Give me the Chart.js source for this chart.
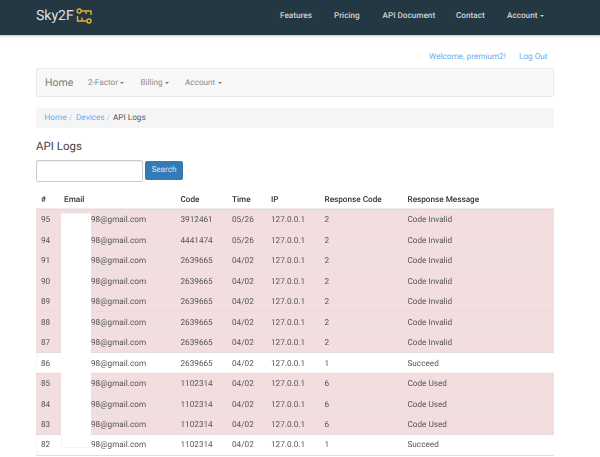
<!DOCTYPE html>
<html>
<head>
<meta charset="utf-8">
<title>API Logs</title>
<script src="https://cdn.jsdelivr.net/npm/chart.js@4/dist/chart.umd.min.js"></script>
<style>
  html, body { margin: 0; padding: 0; background: #fff; }
  body { width: 600px; height: 457px; overflow: hidden; position: relative; font-family: Roboto, sans-serif; font-size: 8.2px; text-rendering: geometricPrecision; }
  .abs { position: absolute; white-space: nowrap; line-height: 12px; }
  .topbar { position: absolute; left: 0; top: 0; width: 600px; height: 35px; background: #243844; box-shadow: 0 1px 2px rgba(0,0,0,.25); }
  .top-link { color: #cfd3d6; font-weight: 500; top: 10px; font-size: 8.2px; }
  .link { color: #5fadf0; }
  .caret { position: absolute; width: 0; height: 0; border-left: 2.2px solid transparent; border-right: 2.2px solid transparent; border-top: 2.2px solid #777; }
  .box { position: absolute; left: 36px; width: 518px; box-sizing: border-box; border-radius: 2px; }
  .subnav { color: #8a8a8a; top: 77px; }
  #tableWrap { position: absolute; left: 36px; top: 190px; width: 518px; height: 267px; }
</style>
</head>
<body>
<div class="topbar"></div>
<div class="abs" style="left:36px;top:8px;font-size:14px;line-height:17px;color:#dfe3e5">Sky2F</div>
<svg class="abs" style="left:75px;top:7px" width="19" height="18" viewBox="0 0 19 18" fill="none" stroke="#e5b12f" stroke-width="1.4">
  <circle cx="4.2" cy="4" r="2"/><path d="M6.5 4H16V8M11 4V7"/>
  <circle cx="14" cy="14" r="2"/><path d="M2.5 9V14H11.7M7 14V10.5"/>
</svg>
<div class="abs top-link" style="left:280px">Features</div>
<div class="abs top-link" style="left:334px">Pricing</div>
<div class="abs top-link" style="left:382.5px">API Document</div>
<div class="abs top-link" style="left:456px">Contact</div>
<div class="abs top-link" style="left:507px">Account</div>
<div class="caret" style="left:539.5px;top:15px;border-top-color:#cfd3d6"></div>

<div class="abs link" style="left:429px;top:51px">Welcome, premium2!</div>
<div class="abs link" style="left:519px;top:51px">Log Out</div>

<div class="box" style="top:68px;height:29px;background:#f8f8f8;border:1px solid #e9e9e9"></div>
<div class="abs" style="left:45px;top:76px;font-size:10.5px;line-height:14px;color:#777">Home</div>
<div class="abs subnav" style="left:88px">2-Factor</div>
<div class="caret" style="left:120px;top:82px"></div>
<div class="abs subnav" style="left:140.5px">Billing</div>
<div class="caret" style="left:165px;top:82px"></div>
<div class="abs subnav" style="left:185px">Account</div>
<div class="caret" style="left:217.5px;top:82px"></div>

<div class="box" style="top:108px;height:20px;background:#f5f5f5"></div>
<div class="abs link" style="left:44.5px;top:112px">Home</div>
<div class="abs" style="left:69px;top:112px;color:#ccc">/</div>
<div class="abs link" style="left:76px;top:112px">Devices</div>
<div class="abs" style="left:106.5px;top:112px;color:#ccc">/</div>
<div class="abs" style="left:113px;top:112px;color:#555">API Logs</div>

<div class="abs" style="left:36px;top:139px;font-size:11.5px;line-height:15px;color:#444">API Logs</div>
<div class="abs" style="left:36px;top:160px;width:107px;height:22px;box-sizing:border-box;border:1px solid #ccc;border-radius:2px;box-shadow:inset 0 1px 1px rgba(0,0,0,.07)"></div>
<div class="abs" style="left:145px;top:161px;width:38px;height:19px;background:#337ab7;border-radius:2px;color:#dbe7f1;text-align:center;line-height:19px">Search</div>

<div id="tableWrap"><canvas id="logTable"></canvas></div>

<script>
/* ── Table data ────────────────────────────────────────── */
const headers          = ["#", "Email", "Code", "Time", "IP", "Response Code", "Response Message"];
const rowIds           = ["95", "94", "91", "90", "89", "88", "87", "86", "85", "84", "83", "82"];
const emails           = Array(12).fill("98@gmail.com");
const codes            = ["3912461", "4441474", "2639665", "2639665", "2639665", "2639665", "2639665", "2639665", "1102314", "1102314", "1102314", "1102314"];
const times            = ["05/26", "05/26", "04/02", "04/02", "04/02", "04/02", "04/02", "04/02", "04/02", "04/02", "04/02", "04/02"];
const ips              = Array(12).fill("127.0.0.1");
const responseCodes    = ["2", "2", "2", "2", "2", "2", "2", "1", "6", "6", "6", "1"];
const responseMessages = ["Code Invalid", "Code Invalid", "Code Invalid", "Code Invalid", "Code Invalid", "Code Invalid", "Code Invalid", "Succeed", "Code Used", "Code Used", "Code Used", "Succeed"];

// Failed requests get a shaded row
const failedRows = responseCodes.map(c => (c === "1" ? 0 : 1));

/* ── Layout of the columns, px from the table's left edge ─ */
const HEADER_X = [5, 28, 144.5, 196, 235, 288.5, 371.5];
const CELL_X   = [5, 55, 144.5, 196, 235, 288.5, 371.5];
const columns  = [rowIds, emails, codes, times, ips, responseCodes, responseMessages];

/* ── Cell text + the white patch over the addresses ────── */
const cellText = {
  id: "cellText",
  afterDraw(chart) {
    const { ctx, chartArea, scales } = chart;
    const y = scales.y;
    ctx.save();
    ctx.textBaseline = "middle";
    ctx.textRendering = "geometricPrecision";

    ctx.font = "500 8.2px Roboto";
    ctx.fillStyle = "#333";
    headers.forEach((h, i) => ctx.fillText(h, HEADER_X[i], chartArea.top - 10));

    // rule under the header
    ctx.fillStyle = "#ddd";
    ctx.fillRect(0, chartArea.top - 1, chartArea.right, 1.5);

    // patch over the hidden part of the email column
    ctx.fillStyle = "#fff";
    ctx.fillRect(25, chartArea.top + 4, 30, 233.5);
    ctx.fillStyle = "#eee";
    ctx.fillRect(25, y.getPixelForValue(10.5), 0.6, chartArea.top + 237.5 - y.getPixelForValue(10.5));
    ctx.fillRect(25, chartArea.top + 237.5, 30, 0.6);

    ctx.font = "8.2px Roboto";
    ctx.fillStyle = "#555";
    columns.forEach((col, i) => {
      col.forEach((val, r) => ctx.fillText(val, CELL_X[i], y.getPixelForValue(r) + 0.6));
    });
    ctx.restore();
  },
};

/* ── Rows as a full-width horizontal bar chart ─────────── */
new Chart(document.getElementById("logTable"), {
  type: "bar",
  data: {
    labels: rowIds,
    datasets: [{
      data: failedRows,
      backgroundColor: "#f2dede",
      borderWidth: 0,
      barPercentage: 1,
      categoryPercentage: 1,
    }],
  },
  options: {
    indexAxis: "y",
    responsive: true,
    maintainAspectRatio: false,
    animation: false,
    layout: { padding: { top: 19.5, bottom: 2, left: 0, right: 0 } },
    plugins: { legend: { display: false }, tooltip: { enabled: false } },
    scales: {
      x: { display: false, min: 0, max: 1 },
      y: {
        afterFit: s => { s.width = 0; },
        ticks: { display: false },
        border: { display: false },
        grid: { color: "#e6dcdc", lineWidth: 1, drawTicks: false, z: 1 },
      },
    },
  },
  plugins: [cellText],
});
</script>
</body>
</html>
